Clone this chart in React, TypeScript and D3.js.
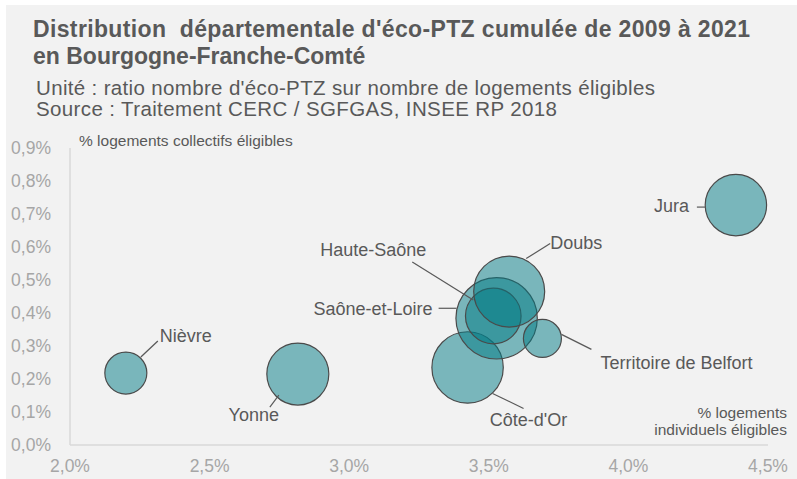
import React, { useEffect, useRef } from 'react';
import * as d3 from 'd3';

const departements = ['Nièvre', 'Yonne', 'Côte-d\'Or', 'Saône-et-Loire', 'Haute-Saône', 'Doubs', 'Territoire de Belfort', 'Jura'];
const partIndividuels = [2.2, 2.816, 3.424, 3.528, 3.516, 3.573, 3.692, 4.385];
const partCollectifs = [0.218, 0.215, 0.235, 0.384, 0.391, 0.465, 0.323, 0.727];
const poids = [441, 961, 1274, 1656, 773, 1260, 361, 942];

// position des étiquettes (décalage par rapport au centre de la bulle)
const labelOffsets: [number, number, string][] = [
  [34, -37, 'start'],
  [-44, 41, 'middle'],
  [61, 52, 'middle'],
  [-64, -10, 'end'],
  [-120, -66, 'middle'],
  [41, -49, 'start'],
  [58, 24, 'start'],
  [-47, 1, 'end'],
];
const leaders: [number, number, number, number][] = [
  [15, -16, 32, -32],
  [-28, 33, -19, 21],
  [25, 26, 56, 41],
  [-58, -10, -40, -10],
  [-81, -54, -20, -16],
  [17, -33, 41, -48],
  [19, -4, 49, 11],
  [-39, 2, -30, 2],
];

const xTicks = [2.0, 2.5, 3.0, 3.5, 4.0, 4.5];
const yTicks = [0, 0.1, 0.2, 0.3, 0.4, 0.5, 0.6, 0.7, 0.8, 0.9];

export default function App() {
  const ref = useRef<SVGSVGElement>(null);

  useEffect(() => {
    const width = 797, height = 479;
    const svg = d3.select(ref.current);
    svg.selectAll('*').remove();
    const font = '"Liberation Sans", Arial, sans-serif';

    svg.append('rect').attr('x', 6).attr('y', 5).attr('width', width - 6).attr('height', height - 5).attr('fill', '#f2f2f2');

    const title = svg.append('text').attr('font-family', font).attr('font-weight', 'bold')
      .attr('font-size', 23).attr('fill', '#595959').style('white-space', 'pre');
    title.append('tspan').attr('x', 33).attr('y', 37)
      .attr('textLength', 717).attr('lengthAdjust', 'spacing')
      .text('Distribution  départementale d\'éco-PTZ cumulée de 2009 à 2021');
    title.append('tspan').attr('x', 33).attr('y', 64).text('en Bourgogne-Franche-Comté');

    const sub = svg.append('text').attr('font-family', font).attr('font-size', 20.5).attr('fill', '#595959');
    sub.append('tspan').attr('x', 36).attr('y', 95)
      .attr('textLength', 619).attr('lengthAdjust', 'spacing')
      .text('Unité : ratio nombre d\'éco-PTZ sur nombre de logements éligibles');
    sub.append('tspan').attr('x', 36).attr('y', 116)
      .attr('textLength', 521).attr('lengthAdjust', 'spacing')
      .text('Source : Traitement CERC / SGFGAS, INSEE RP 2018');

    const x = d3.scaleLinear().domain([2.0, 4.5]).range([70, 768]);
    const y = d3.scaleLinear().domain([0, 0.9]).range([445, 148]);
    const r = d3.scaleSqrt().domain([0, d3.max(poids)!]).range([0, 40.7]);

    svg.append('line').attr('x1', 70).attr('x2', 70).attr('y1', y(0.9)).attr('y2', y(0))
      .attr('stroke', '#d9d9d9').attr('stroke-width', 1.5);
    svg.append('line').attr('x1', x(2.0)).attr('x2', x(4.5)).attr('y1', y(0)).attr('y2', y(0))
      .attr('stroke', '#d9d9d9').attr('stroke-width', 1.5);

    const fmt = (v: number) => v.toFixed(1).replace('.', ',') + '%';

    svg.append('g').selectAll('text').data(yTicks).enter().append('text')
      .attr('x', 51).attr('y', d => y(d)).attr('dy', '0.35em').attr('text-anchor', 'end')
      .attr('font-family', font).attr('font-size', 17.5).attr('fill', '#a6a6a6').text(fmt);
    svg.append('g').selectAll('text').data(xTicks).enter().append('text')
      .attr('x', d => x(d)).attr('y', 466).attr('dy', '0.35em').attr('text-anchor', 'middle')
      .attr('font-family', font).attr('font-size', 17.5).attr('fill', '#a6a6a6').text(fmt);

    svg.append('text').attr('x', 79).attr('y', 141).attr('dy', '0.35em')
      .attr('font-family', font).attr('font-size', 15.5).attr('fill', '#595959')
      .text('% logements collectifs éligibles');
    const xt = svg.append('text').attr('text-anchor', 'end')
      .attr('font-family', font).attr('font-size', 15.5).attr('fill', '#595959');
    xt.append('tspan').attr('x', 787).attr('y', 413).attr('dy', '0.35em').text('% logements');
    xt.append('tspan').attr('x', 787).attr('y', 430).attr('dy', '0.35em').text('individuels éligibles');

    const idx = d3.range(departements.length);

    svg.append('g').selectAll('circle').data(idx).enter().append('circle')
      .attr('cx', i => x(partIndividuels[i])).attr('cy', i => y(partCollectifs[i]))
      .attr('r', i => r(poids[i]))
      .attr('fill', 'rgb(0,122,132)').attr('fill-opacity', 0.5)
      .attr('stroke', '#4a4a4a').attr('stroke-width', 1.2);

    svg.append('g').selectAll('line').data(idx).enter().append('line')
      .attr('x1', i => x(partIndividuels[i]) + leaders[i][0])
      .attr('y1', i => y(partCollectifs[i]) + leaders[i][1])
      .attr('x2', i => x(partIndividuels[i]) + leaders[i][2])
      .attr('y2', i => y(partCollectifs[i]) + leaders[i][3])
      .attr('stroke', '#595959').attr('stroke-width', 1.2);

    svg.append('g').selectAll('text').data(idx).enter().append('text')
      .attr('x', i => x(partIndividuels[i]) + labelOffsets[i][0])
      .attr('y', i => y(partCollectifs[i]) + labelOffsets[i][1])
      .attr('dy', '0.35em').attr('text-anchor', i => labelOffsets[i][2])
      .attr('font-family', font).attr('font-size', 18).attr('fill', '#595959')
      .text(i => departements[i]);
  }, []);

  return <svg ref={ref} width={797} height={479} style={{ position: 'absolute', left: 0, top: 0 }} />;
}
